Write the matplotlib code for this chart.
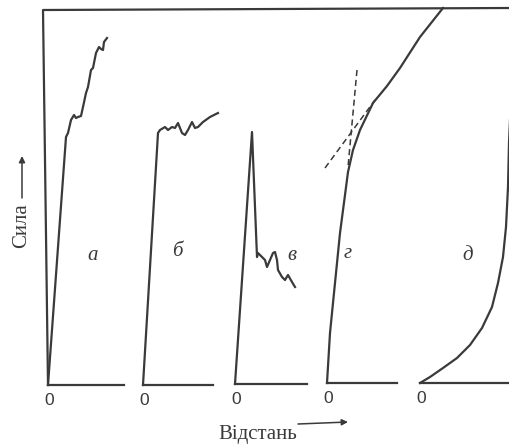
import numpy as np
import matplotlib
matplotlib.use('Agg')
import matplotlib.pyplot as plt

# force-distance curves, each relative to its own origin (distance, force)
a_dist = [0, 18, 20, 23, 26, 28, 30, 33, 35, 38, 40, 43, 45, 48, 51, 53, 55, 56, 59]
a_force = [0, 248, 252, 265, 270, 267, 268, 269, 278, 292, 298, 315, 317, 332, 338, 336, 335, 343, 347]

b_dist = [0, 15, 17, 22, 25, 29, 32, 35, 39, 42, 45, 49, 52, 55, 60, 67, 75]
b_force = [0, 252, 255, 258, 255, 258, 257, 262, 252, 250, 255, 263, 257, 258, 263, 268, 272]

v_dist = [0, 17, 22, 23, 27, 30, 32, 35, 38, 40, 42, 43, 47, 50, 53, 57, 60]
v_force = [0, 252, 127, 131, 127, 124, 117, 124, 131, 132, 124, 114, 107, 104, 109, 102, 97]

g_dist = [0, 3, 8, 13, 18, 21, 26, 33, 46, 60, 73, 93, 116]
g_force = [0, 50, 100, 150, 188, 211, 233, 253, 280, 297, 315, 346, 375]
g_tan1 = ([30, 21], [313, 216])
g_tan2 = ([-2, 48], [215, 283])

d_dist = [0, 10, 23, 37, 50, 62, 72, 78, 83, 86, 88, 89, 90]
d_force = [0, 6, 15, 25, 38, 55, 76, 100, 126, 156, 196, 240, 263]

panel_labels = ['а', 'б', 'в', 'г', 'д']
axis_len = [76, 70, 72, 70, 95]

# panel origins in figure pixels
origins = [(48, 63), (143, 63), (235, 64), (327, 65), (420, 65)]
label_pos = [(93, 193), (177, 197), (292, 193), (348, 195), (468, 193)]

ink = '#3a3a3a'
lw = 1.6

fig = plt.figure(figsize=(5.09, 4.48), dpi=100)
ax = fig.add_axes([0, 0, 1, 1])
ax.set_xlim(0, 509)
ax.set_ylim(0, 448)
ax.axis('off')

curves = [(a_dist, a_force), (b_dist, b_force), (v_dist, v_force),
          (g_dist, g_force), (d_dist, d_force)]

for (x0, y0), (dx, fy), L in zip(origins, curves, axis_len):
    ax.plot(x0 + np.array(dx), y0 + np.array(fy), color=ink, lw=lw,
            solid_joinstyle='round', clip_on=False)
    ax.plot([x0, x0 + L], [y0, y0], color=ink, lw=lw)
    ax.text(x0 + 1, y0 - 15, '0', ha='center', va='center',
            fontsize=12.5, family='Liberation Sans', color=ink)

# dashed tangents for panel г
gx, gy = origins[3]
for tx, ty in (g_tan1, g_tan2):
    ax.plot(gx + np.array(tx), gy + np.array(ty), color=ink, lw=1.1,
            ls=(0, (4, 2.5)))

# outer frame: left and top
ax.plot([48, 43, 509], [63, 438, 440], color=ink, lw=lw)

for (lx, ly), s in zip(label_pos, panel_labels):
    ax.text(lx, ly, s, ha='center', va='center', fontsize=15,
            style='italic', family='Liberation Serif', color=ink)

# axis captions
ax.text(22, 222, 'Сила', rotation=90, ha='center', va='center',
        fontsize=15, family='Liberation Serif', color=ink)
ax.annotate('', xy=(22, 292), xytext=(22, 250),
            arrowprops=dict(arrowstyle='-|>', color=ink, lw=1.1,
                            mutation_scale=9, shrinkA=0, shrinkB=0))
ax.text(258, 14, 'Відстань', ha='center', va='center',
        fontsize=15, family='Liberation Serif', color=ink)
ax.annotate('', xy=(348, 26), xytext=(298, 24),
            arrowprops=dict(arrowstyle='-|>', color=ink, lw=1.1,
                            mutation_scale=9, shrinkA=0, shrinkB=0))

fig.savefig('out.png', dpi=100, facecolor='white')
